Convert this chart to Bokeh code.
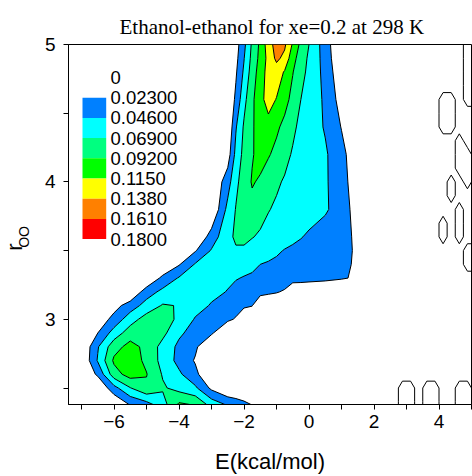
import numpy as np
from bokeh.plotting import figure
from bokeh.layouts import row
from bokeh.models import FixedTicker, Label, BoxAnnotation, Range1d
from bokeh.embed import file_html
from bokeh.resources import INLINE

# ---- data -----------------------------------------------------------------
# pair-energy bins (kcal/mol)
E_KCAL = [-7.5, -7.0, -6.5, -6.0, -5.5, -5.0, -4.5, -4.0, -3.5, -3.0,
          -2.5, -2.25, -2.0, -1.75, -1.5, -1.25, -1.0, -0.75, -0.5, -0.25,
          0.0, 0.5, 1.0, 1.5, 2.0]
# O-O distance bins (Angstrom)
R_OO = [2.38, 2.5, 2.6, 2.7, 2.8, 2.9, 3.0, 3.1, 3.2, 3.3, 3.4, 3.5, 3.6,
        3.8, 4.0, 4.2, 4.4, 4.6, 4.8, 4.9, 5.0]

# probability density, one row per r_OO bin (bottom to top), one column per E bin
P_238 = [0, 0, 0, 0, .025, .037, .059, .096, .090, .060, .043, .036, .029, .022, 0, 0, 0, 0, 0, 0, 0, 0, 0, 0, 0]
P_250 = [0, 0, 0, .038, .068, .088, .072, .061, .050, .018, 0, 0, 0, 0, 0, 0, 0, 0, 0, 0, 0, 0, 0, 0, 0]
P_260 = [0, 0, .027, .082, .102, .093, .067, .050, .029, 0, 0, 0, 0, 0, 0, 0, 0, 0, 0, 0, 0, 0, 0, 0, 0]
P_270 = [0, 0, .048, .096, .104, .087, .061, .039, .021, 0, 0, 0, 0, 0, 0, 0, 0, 0, 0, 0, 0, 0, 0, 0, 0]
P_280 = [0, 0, .044, .083, .100, .086, .061, .041, .027, 0, 0, 0, 0, 0, 0, 0, 0, 0, 0, 0, 0, 0, 0, 0, 0]
P_290 = [0, 0, .023, .056, .081, .090, .075, .050, .037, .026, 0, 0, 0, 0, 0, 0, 0, 0, 0, 0, 0, 0, 0, 0, 0]
P_300 = [0, 0, .007, .031, .059, .079, .078, .065, .044, .035, .027, .021, 0, 0, 0, 0, 0, 0, 0, 0, 0, 0, 0, 0, 0]
P_310 = [0, 0, 0, .014, .034, .055, .071, .068, .055, .044, .036, .032, .028, .024, 0, 0, 0, 0, 0, 0, 0, 0, 0, 0, 0]
P_320 = [0, 0, 0, 0, 0, .035, .052, .061, .060, .052, .045, .041, .038, .035, .032, .028, .025, .020, 0, 0, 0, 0, 0, 0, 0]
P_330 = [0, 0, 0, 0, 0, 0, .029, .048, .056, .055, .050, .047, .045, .044, .042, .040, .039, .037, .035, .034, .032, .029, .025, .020, 0]
P_340 = [0, 0, 0, 0, 0, 0, 0, .021, .048, .058, .056, .054, .052, .049, .046, .044, .042, .040, .038, .036, .034, .030, .026, .021, 0]
P_350 = [0, 0, 0, 0, 0, 0, 0, 0, .021, .048, .060, .067, .065, .061, .057, .053, .049, .045, .042, .040, .037, .032, .027, .021, 0]
P_360 = [0, 0, 0, 0, 0, 0, 0, 0, 0, .033, .064, .072, .075, .070, .066, .062, .058, .054, .051, .047, .043, .035, .028, .020, 0]
P_380 = [0, 0, 0, 0, 0, 0, 0, 0, 0, 0, .053, .070, .078, .085, .077, .070, .066, .063, .060, .057, .055, .049, .035, .012, 0]
P_400 = [0, 0, 0, 0, 0, 0, 0, 0, 0, 0, .036, .064, .079, .094, .089, .080, .072, .067, .063, .060, .056, .049, .032, .009, 0]
P_420 = [0, 0, 0, 0, 0, 0, 0, 0, 0, 0, .011, .053, .076, .090, .100, .094, .086, .075, .067, .062, .058, .049, .030, .006, 0]
P_440 = [0, 0, 0, 0, 0, 0, 0, 0, 0, 0, 0, .044, .072, .089, .103, .107, .096, .086, .073, .064, .058, .044, .022, 0, 0]
P_460 = [0, 0, 0, 0, 0, 0, 0, 0, 0, 0, 0, .028, .062, .087, .108, .124, .114, .100, .085, .069, .061, .042, .013, 0, 0]
P_480 = [0, 0, 0, 0, 0, 0, 0, 0, 0, 0, 0, .020, .050, .080, .103, .124, .127, .113, .093, .077, .063, .039, .005, 0, 0]
P_490 = [0, 0, 0, 0, 0, 0, 0, 0, 0, 0, 0, .016, .045, .076, .099, .122, .143, .132, .100, .081, .065, .037, 0, 0, 0]
P_500 = [0, 0, 0, 0, 0, 0, 0, 0, 0, 0, 0, .013, .040, .073, .097, .127, .148, .142, .112, .086, .069, .034, 0, 0, 0]

P_ROWS = [P_238, P_250, P_260, P_270, P_280, P_290, P_300, P_310, P_320, P_330,
          P_340, P_350, P_360, P_380, P_400, P_420, P_440, P_460, P_480, P_490, P_500]

# sparse noise cells at the high-energy edge (outlined by the "0" level)
NOISE_E = [2.625, 2.875, 3.125, 3.375, 3.625, 3.875, 4.125, 4.375, 4.625, 4.875, 5.125]
NOISE_R = [2.3, 2.4, 2.5, 2.6, 2.7, 2.8, 2.9, 3.0, 3.1, 3.2, 3.3, 3.4, 3.5, 3.6,
           3.7, 3.8, 3.9, 4.0, 4.1, 4.2, 4.3, 4.4, 4.5, 4.6, 4.7, 4.8, 4.9, 5.0, 5.1]
NOISE_CELLS = [
    (2.875, 2.3), (2.875, 2.4), (2.875, 2.5), (3.125, 2.3), (3.125, 2.4), (3.125, 2.5),
    (3.625, 2.3), (3.625, 2.4), (3.625, 2.5), (3.875, 2.3), (3.875, 2.4), (3.875, 2.5),
    (4.625, 2.3), (4.625, 2.4), (4.625, 2.5), (4.875, 2.3), (4.875, 2.4), (4.875, 2.5),
    (4.875, 3.4), (4.875, 3.5), (5.125, 3.4), (5.125, 3.5),
    (4.125, 3.6), (4.125, 3.7),
    (4.625, 3.6), (4.625, 3.7), (4.625, 3.8),
    (4.375, 3.9), (4.375, 4.0),
    (4.875, 4.0), (4.875, 4.1), (4.875, 4.2),
    (4.625, 4.1), (4.625, 4.2), (4.625, 4.3),
    (4.125, 4.4), (4.125, 4.5), (4.125, 4.6), (4.375, 4.4), (4.375, 4.5), (4.375, 4.6),
    (4.875, 4.6), (4.875, 4.7), (4.875, 4.8), (4.875, 4.9), (4.875, 5.0), (4.875, 5.1),
    (5.125, 4.6), (5.125, 4.7), (5.125, 4.8), (5.125, 4.9), (5.125, 5.0), (5.125, 5.1),
]

LEVELS = [0, 0.023, 0.046, 0.069, 0.092, 0.115, 0.138, 0.161, 0.18]
LEVEL_LABELS = ["0", "0.02300", "0.04600", "0.06900", "0.09200",
                "0.1150", "0.1380", "0.1610", "0.1800"]
BAND_COLORS = ["#0080FF", "#00FFFF", "#00FF80", "#00FF00",
               "#FFFF00", "#FF8000", "#FF0000"]

X_TICKS = [-6, -4, -2, 0, 2, 4]
X_MINOR = [-7, -5, -3, -1, 1, 3, 5]
Y_TICKS = [3, 4, 5]
Y_MINOR = [2.5, 3.5, 4.5]

TITLE = "Ethanol-ethanol for xe=0.2 at 298 K"

# ---- geometry ----------------------------------------------------------
W, H = 472, 476
FRAME_L, FRAME_T, FRAME_R, FRAME_B = 68, 44, 471, 405
YLAB_W = 36

# ---- y-axis title strip (r with subscript OO) ----------------------------
side = figure(width=YLAB_W, height=H, x_range=Range1d(0, YLAB_W),
              y_range=Range1d(0, H), output_backend="svg", toolbar_location=None,
              x_axis_location=None, y_axis_location=None,
              min_border_left=0, min_border_right=0,
              min_border_top=0, min_border_bottom=0)
side.title.visible = False
side.xgrid.visible = False
side.ygrid.visible = False
side.outline_line_color = None
side.background_fill_color = "white"
side.border_fill_color = "white"
side.add_layout(Label(x=14.1, y=208, text="r", angle=np.pi / 2,
                      text_font="Liberation Sans", text_font_size="22px",
                      text_align="center", text_baseline="middle", text_color="black"))
side.add_layout(Label(x=23.6, y=221.5, text="OO", angle=np.pi / 2,
                      text_font="Liberation Sans", text_font_size="14px",
                      text_align="center", text_baseline="middle", text_color="black"))

# ---- main plot ---------------------------------------------------------
p = figure(width=W - YLAB_W, height=H,
           x_range=Range1d(-7.4, 5.0), y_range=Range1d(2.38, 5.0),
           output_backend="svg", toolbar_location=None,
           min_border_left=FRAME_L - YLAB_W, min_border_right=W - FRAME_R,
           min_border_top=FRAME_T, min_border_bottom=H - FRAME_B)
p.title.text = TITLE
p.title.align = "left"
p.title.offset = 119 - FRAME_L
p.title.standoff = 12
p.title.text_font = "Liberation Serif"
p.title.text_font_size = "21px"
p.title.text_font_style = "normal"
p.title.text_color = "black"
p.background_fill_color = "white"
p.border_fill_color = "white"
p.xgrid.visible = False
p.ygrid.visible = False
p.outline_line_color = "black"
p.outline_line_alpha = 1.0
p.outline_line_width = 1

p.contour(x=np.array(E_KCAL), y=np.array(R_OO), z=np.array(P_ROWS),
          levels=LEVELS[1:], fill_color=BAND_COLORS,
          line_color="black", line_width=1)

noise = np.zeros((len(NOISE_R), len(NOISE_E)))
for e, r in NOISE_CELLS:
    noise[NOISE_R.index(r), NOISE_E.index(e)] = 1.0
p.contour(x=np.array(NOISE_E), y=np.array(NOISE_R), z=noise, levels=[0.5],
          fill_color=None, line_color="black", line_width=1)

p.xaxis.ticker = FixedTicker(ticks=X_TICKS, minor_ticks=X_MINOR)
p.yaxis.ticker = FixedTicker(ticks=Y_TICKS, minor_ticks=Y_MINOR)
for ax in (p.xaxis[0], p.yaxis[0]):
    ax.major_tick_out = 5
    ax.major_tick_in = 0
    ax.minor_tick_out = 5
    ax.minor_tick_in = 0
    ax.major_tick_line_color = "black"
    ax.minor_tick_line_color = "black"
    ax.axis_line_color = "black"
    ax.major_label_text_font = "Liberation Sans"
    ax.major_label_text_font_size = "19px"
    ax.major_label_text_color = "black"
p.xaxis.major_label_standoff = 5
p.yaxis.major_label_standoff = 8
p.xaxis.axis_label = "E(kcal/mol)"
p.xaxis.axis_label_text_font = "Liberation Sans"
p.xaxis.axis_label_text_font_size = "22px"
p.xaxis.axis_label_text_font_style = "normal"
p.xaxis.axis_label_text_color = "black"
p.xaxis.axis_label_standoff = 18

# legend (screen units from the frame's bottom-left corner)
LEG_TOP, LEG_STEP = 78.0, 20.2
for i, t in enumerate(LEVEL_LABELS):
    cy = LEG_TOP + LEG_STEP * i
    p.add_layout(Label(x=110 - FRAME_L, y=FRAME_B - cy, x_units="screen",
                       y_units="screen", text=t, text_font="Liberation Sans",
                       text_font_size="18.5px", text_align="left",
                       text_baseline="middle", text_color="black"))
for i, c in enumerate(BAND_COLORS):
    top_c = LEG_TOP + LEG_STEP * (i + 1)
    bot_c = LEG_TOP + LEG_STEP * (i + 2)
    p.add_layout(BoxAnnotation(left=82 - FRAME_L, right=105.7 - FRAME_L,
                               top=FRAME_B - top_c, bottom=FRAME_B - bot_c,
                               left_units="screen", right_units="screen",
                               top_units="screen", bottom_units="screen",
                               fill_color=c, fill_alpha=1.0, line_color=None))

layout = row(side, p, spacing=0)
open("out.html", "w").write(file_html(layout, INLINE))
